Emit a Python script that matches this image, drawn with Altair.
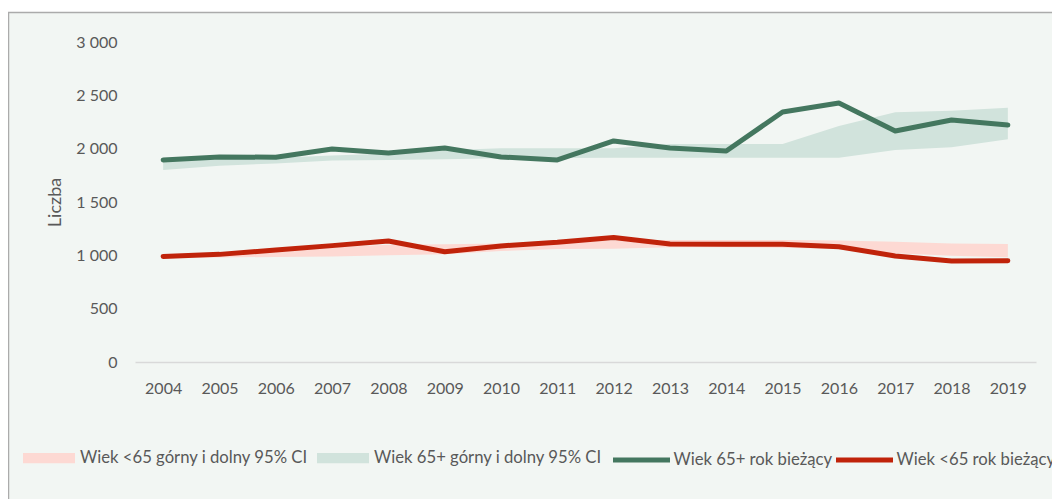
import altair as alt
import pandas as pd

years = [str(y) for y in range(2004, 2020)]

# Wiek 65+ (green)
old_current = [1894, 1922, 1920, 1997, 1960, 2006, 1922, 1894, 2072, 2006, 1978, 2344, 2428, 2166, 2269, 2222]
old_lower = [1800, 1840, 1862, 1888, 1894, 1900, 1909, 1912, 1916, 1916, 1916, 1916, 1916, 1987, 2013, 2088]
old_upper = [1880, 1900, 1915, 1935, 1955, 1985, 2003, 2003, 2005, 2044, 2044, 2044, 2212, 2341, 2356, 2384]

# Wiek <65 (red)
young_current = [990, 1009, 1050, 1091, 1135, 1034, 1088, 1122, 1168, 1106, 1104, 1103, 1081, 994, 947, 950]
young_lower = [975, 980, 985, 990, 1000, 1009, 1041, 1059, 1062, 1075, 1075, 1072, 1059, 1019, 997, 981]
young_upper = [1000, 1015, 1040, 1075, 1100, 1103, 1110, 1125, 1140, 1144, 1144, 1144, 1138, 1128, 1112, 1106]

band_labels = ["Wiek <65 górny i dolny 95% CI", "Wiek 65+ górny i dolny 95% CI"]
line_labels = ["Wiek 65+ rok bieżący", "Wiek <65 rok bieżący"]
band_colors = ["#fdd9d3", "#d1e3dc"]
line_colors = ["#44775f", "#c0230a"]
y_ticks = [0, 500, 1000, 1500, 2000, 2500, 3000]

n = len(years)
bands = pd.DataFrame({
    "year": years * 2,
    "lower": young_lower + old_lower,
    "upper": young_upper + old_upper,
    "series": [band_labels[0]] * n + [band_labels[1]] * n,
})
lines = pd.DataFrame({
    "year": years * 2,
    "value": old_current + young_current,
    "series": [line_labels[0]] * n + [line_labels[1]] * n,
})

FONT = "Lato"
TXT = "#595959"
LEG_FS = 16.7

x_enc = alt.X(
    "year:O",
    scale=alt.Scale(type="point", padding=0.5),
    axis=alt.Axis(
        labelAngle=0, ticks=False, domainColor="#d9d9d9", domainWidth=1.5,
        labelPadding=18, title=None, labelFont=FONT, labelFontSize=16, labelColor=TXT,
        zindex=1,
    ),
)
y_scale = alt.Scale(domain=[0, 3000], nice=False)
y_axis = alt.Axis(
    values=y_ticks, grid=False, domain=False, ticks=False, labelPadding=18,
    labelExpr="replace(format(datum.value, ','), ',', ' ')",
    labelFont=FONT, labelFontSize=16, labelColor=TXT,
    title="Liczba", titleFont=FONT, titleFontSize=18, titleFontWeight="normal",
    titleColor=TXT, titleAngle=-90, titleX=-80, titleY=160,
    titleAlign="center", titleBaseline="middle", zindex=1,
)

frame = alt.Chart(pd.DataFrame({"f": [0]})).mark_rect(
    fill="#f2f6f3", stroke="#ababab", strokeWidth=1.5
).encode(
    x=alt.value(-126.5), x2=alt.value(1100), y=alt.value(-29.5), y2=alt.value(600)
)

area = alt.Chart(bands).mark_area(opacity=1, interpolate="linear").encode(
    x=x_enc,
    y=alt.Y("lower:Q", scale=y_scale, axis=y_axis),
    y2="upper:Q",
    fill=alt.Fill(
        "series:N",
        scale=alt.Scale(domain=band_labels, range=band_colors),
        legend=alt.Legend(
            orient="none", legendX=-112, legendY=390, direction="horizontal",
            title=None, symbolType="M-1,-0.2H1V0.2H-1Z", symbolSize=2704,
            symbolStrokeWidth=0, symbolOpacity=1, labelOffset=5, columnPadding=9,
            labelFont=FONT, labelFontSize=LEG_FS, labelColor=TXT, labelLimit=400,
        ),
    ),
    detail="series:N",
)

line = alt.Chart(lines).mark_line(strokeWidth=5, strokeCap="round", strokeJoin="round").encode(
    x=x_enc,
    y=alt.Y("value:Q", scale=y_scale, axis=y_axis),
    stroke=alt.Stroke(
        "series:N",
        scale=alt.Scale(domain=line_labels, range=line_colors),
        legend=alt.Legend(
            orient="none", legendX=475.5, legendY=387, direction="horizontal",
            title=None, symbolType="stroke", symbolSize=3249, symbolStrokeWidth=5,
            labelOffset=1, columnPadding=-7,
            labelFont=FONT, labelFontSize=LEG_FS, labelColor=TXT, labelLimit=400,
        ),
    ),
)

chart = alt.layer(frame, area, line).properties(
    width=901, height=320,
    autosize=alt.AutoSizeParams(type="none"),
    padding={"left": 127, "top": 34, "right": 16, "bottom": 137},
    background="white",
).configure_view(stroke=None)

chart.save("out.html", embed_options={"renderer": "svg", "actions": False})
